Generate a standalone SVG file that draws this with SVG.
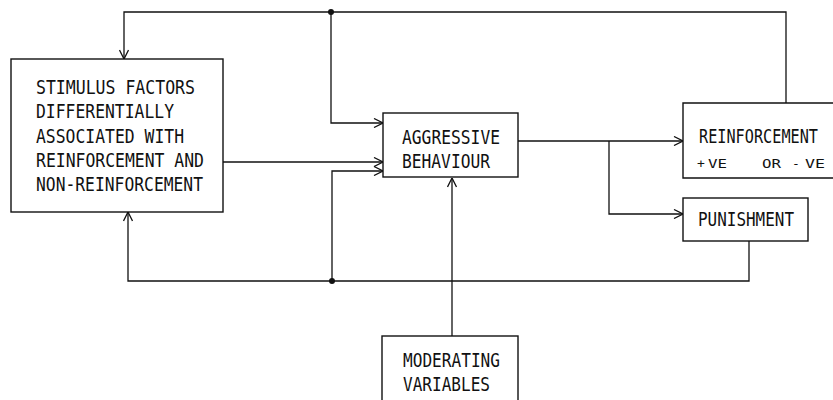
<svg xmlns="http://www.w3.org/2000/svg" width="833" height="400" viewBox="0 0 833 400">
<style>
.box{fill:#fff;stroke:#111;stroke-width:1.4}
.ln{fill:none;stroke:#111;stroke-width:1.3}
.t{font-family:"DejaVu Sans Mono","Liberation Mono",monospace;font-size:19px;fill:#111}
.s{font-family:"DejaVu Sans Mono","Liberation Mono",monospace;font-size:13px;fill:#111}
</style>
<defs>
<marker id="ar" viewBox="0 0 10 10" refX="10" refY="5" markerWidth="10" markerHeight="10" markerUnits="userSpaceOnUse" orient="auto">
<path d="M1,0.5 L10,5 L1,9.5" fill="none" stroke="#111" stroke-width="1.3"/>
</marker>
</defs>
<rect width="833" height="400" fill="#fff"/>
<g id="connectors">
<path class="ln" d="M786,103 V12 H124 V59" marker-end="url(#ar)"/>
<path class="ln" d="M331,12 V123 H383" marker-end="url(#ar)"/>
<path class="ln" d="M223,162 H383" marker-end="url(#ar)"/>
<path class="ln" d="M749,241 V281 H128 V212" marker-end="url(#ar)"/>
<path class="ln" d="M332,281 V171 H383" marker-end="url(#ar)"/>
<path class="ln" d="M518,141 H683" marker-end="url(#ar)"/>
<path class="ln" d="M609,141 V214 H683" marker-end="url(#ar)"/>
<path class="ln" d="M452,336 V178" marker-end="url(#ar)"/>
<circle cx="331" cy="12" r="3" fill="#111"/>
<circle cx="332" cy="281" r="3" fill="#111"/>
</g>
<g id="stimulus">
<rect class="box" x="11" y="59" width="212" height="153"/>
<text class="t" x="36" y="94" textLength="159" lengthAdjust="spacingAndGlyphs">STIMULUS FACTORS</text>
<text class="t" x="36" y="118" textLength="138" lengthAdjust="spacingAndGlyphs">DIFFERENTIALLY</text>
<text class="t" x="36" y="143" textLength="148" lengthAdjust="spacingAndGlyphs">ASSOCIATED WITH</text>
<text class="t" x="36" y="167" textLength="168" lengthAdjust="spacingAndGlyphs">REINFORCEMENT AND</text>
<text class="t" x="36" y="191" textLength="167" lengthAdjust="spacingAndGlyphs">NON-REINFORCEMENT</text>
</g>
<g id="aggressive">
<rect class="box" x="383" y="113" width="135" height="64"/>
<text class="t" x="402" y="144" textLength="98" lengthAdjust="spacingAndGlyphs">AGGRESSIVE</text>
<text class="t" x="402" y="168" textLength="88" lengthAdjust="spacingAndGlyphs">BEHAVIOUR</text>
</g>
<g id="reinforcement">
<path class="box" d="M833,103 H683 V178 H833"/>
<text class="t" style="font-size:16px" transform="translate(699,143) scale(1,1.18)" x="0" y="0" textLength="119" lengthAdjust="spacingAndGlyphs">REINFORCEMENT</text>
<text class="s" x="697" y="168">+</text>
<text class="s" x="708" y="168" textLength="19" lengthAdjust="spacingAndGlyphs">VE</text>
<text class="s" x="762" y="168" textLength="19" lengthAdjust="spacingAndGlyphs">OR</text>
<text class="s" x="792" y="168">-</text>
<text class="s" x="805" y="168" textLength="20" lengthAdjust="spacingAndGlyphs">VE</text>
</g>
<g id="punishment">
<rect class="box" x="683" y="198" width="125" height="43"/>
<text class="t" x="698" y="226" textLength="96" lengthAdjust="spacingAndGlyphs">PUNISHMENT</text>
</g>
<g id="moderating">
<rect class="box" x="382" y="336" width="136" height="80"/>
<text class="t" x="403" y="367" textLength="97" lengthAdjust="spacingAndGlyphs">MODERATING</text>
<text class="t" x="403" y="391" textLength="87" lengthAdjust="spacingAndGlyphs">VARIABLES</text>
</g>
</svg>
